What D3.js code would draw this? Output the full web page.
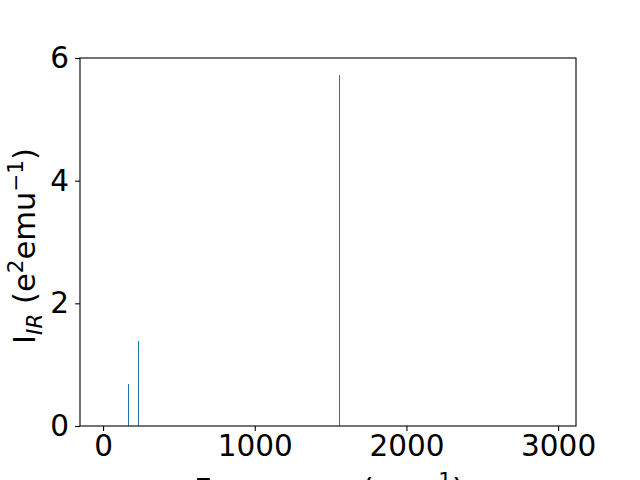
<!DOCTYPE html>
<html>
<head>
<meta charset="utf-8">
<script src="https://cdn.jsdelivr.net/npm/d3@7"></script>
<style>
  html, body { margin: 0; padding: 0; background: #fff; }
  svg { display: block; }
  text { font-family: "DejaVu Sans", sans-serif; fill: #000; }
</style>
</head>
<body>
<svg id="chart" width="640" height="480"></svg>
<script>
// Data
const frequencies = [171, 235, 1556];
const intensities = [0.69, 1.39, 5.72];
const xTicks = [0, 1000, 2000, 3000];
const yTicks = [0, 2, 4, 6];

(function () {
const svg = d3.select("#chart");
const pL = 80, pR = 576, pT = 58, pB = 426;

const x = d3.scaleLinear().domain([-152, 3118]).range([pL, pR]);
const y = d3.scaleLinear().domain([0, 6]).range([pB, pT]);

const tickFont = 29.5;
const labelFont = 30.6;

// bars (stick spectrum)
svg.append("g").selectAll("line").data(frequencies).join("line")
  .attr("x1", d => x(d)).attr("x2", d => x(d))
  .attr("y1", y(0)).attr("y2", (d, i) => y(intensities[i]))
  .attr("stroke", "#1f77b4").attr("stroke-width", 1)
  .attr("shape-rendering", "crispEdges");

// x axis
const xAxis = svg.append("g").attr("transform", `translate(0,${pB})`)
  .call(d3.axisBottom(x).tickValues(xTicks).tickFormat(d3.format("d")).tickSize(4.9).tickPadding(4.5));
xAxis.select(".domain").remove();
xAxis.selectAll("line").attr("stroke", "#000").attr("stroke-width", 1.1);
xAxis.selectAll("text").attr("font-size", tickFont).attr("font-family", "DejaVu Sans").attr("fill", "#000");

// y axis
const yAxis = svg.append("g").attr("transform", `translate(${pL},0)`)
  .call(d3.axisLeft(y).tickValues(yTicks).tickFormat(d3.format("d")).tickSize(4.9).tickPadding(6));
yAxis.select(".domain").remove();
yAxis.selectAll("line").attr("stroke", "#000").attr("stroke-width", 1.1);
yAxis.selectAll("text").attr("font-size", tickFont).attr("font-family", "DejaVu Sans").attr("fill", "#000");

// frame
svg.append("rect").attr("x", pL).attr("y", pT)
  .attr("width", pR - pL).attr("height", pB - pT)
  .attr("fill", "none").attr("stroke", "#000").attr("stroke-width", 1.1);

// x label
const xl = svg.append("text").attr("x", 329).attr("y", 499.5)
  .attr("text-anchor", "middle").attr("font-size", labelFont);
xl.append("tspan").text("Frequency (cm");
xl.append("tspan").attr("dy", -12).attr("font-size", labelFont * 0.7).text("\u22121");
xl.append("tspan").attr("dy", 12).text(")");

// y label
const yl = svg.append("text")
  .attr("transform", `translate(35,246) rotate(-90)`)
  .attr("text-anchor", "middle").attr("font-size", labelFont);
yl.append("tspan").text("I");
yl.append("tspan").attr("dy", 6.5).attr("font-size", labelFont * 0.7).attr("font-style", "italic").text("IR");
yl.append("tspan").attr("dy", -6.5).text(" (e");
yl.append("tspan").attr("dy", -12).attr("font-size", labelFont * 0.7).text("2");
yl.append("tspan").attr("dy", 12).text("emu");
yl.append("tspan").attr("dy", -12).attr("font-size", labelFont * 0.7).text("\u22121");
yl.append("tspan").attr("dy", 12).text(")");
})();
</script>
</body>
</html>
